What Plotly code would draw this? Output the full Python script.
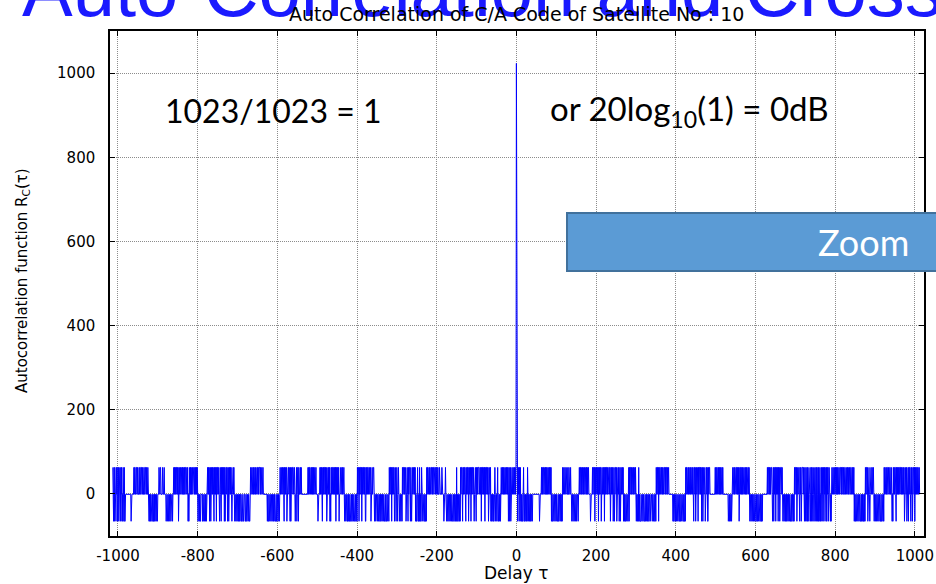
import plotly.graph_objects as go

# ---------------- data ----------------
# autocorrelation levels of the C/A code (per-lag symbols)
LEVELS = {"u": 63, "o": -1, "d": -65}
PEAK_VALUE = 1023

# lags -N..-1 (left of the peak), symbols in order of increasing lag
LEFT_SEGMENTS = [
    "uodud uoddu oudou duodd uoudo duodu ddo",
    "ooooo ooooo ooodo ooooo",
    "uouuo ouuou ooouo uuoou uouoo uuoou uouoo uod",
    "dodod odddo ddodo doddo dd",
    "ooouo ouuoo oouoo ouooo",
    "odood oodoo doodo oodoo",
    "uouou ouuou oudou ouuou uouou oouou uouuo udodo uouou ouuou uuouo uouou",
    "odood oddoo oodod oodoo dodoo",
    "uouou doudo uouou oduou ouduo uuouo douod uouou oudud ouuou doudo uouou odouu ouodo",
    "ddodd oddod odood doodd doood doodd oddod ddo",
    "uouuo uuouo uuouo uuuou ouuuo uouuo uu",
    "ooooo ooooo",
    "doddo ddodd oddod dodod ddodd oddod do",
    "uouuo uuouo duouo uudou uuouo dudou ouuuo uuodo oudou uduoo uuouo ooo",
    "ooooo ooooo oo",
    "uouou uouuo uouou ouuou uo",
    "ooodo ooo",
    "uouou dduou ouuou oudou uouou doduo uouuo uouou duouo uoudo ouuou uouou uo",
    "doddo dddod oddod ddodd oddod ddodd od",
    "uouud uouuo uduou uouou dduou ouuou uouud ouuou uu",
    "odood ooodo odood dodod doddo dddod ddodd odd",
    "uouuo uduou uoudo uudou odouo",
    "odood ood",
    "uouuo uouud ouuod uouuo duodo uouuo uou",
    "doddo uddod udodd uoddo dddod dod",
    "uouuo uuouo uuuou ouuou uuouo uuouo",
    "oouoo ooouo ooodo oouod",
    "doddo ddodd oddod ddodd oddod udodd oddod",
    "uouuo duouo uuodu ouuou douou uduou uouod ouuod uouou",
    "uuouu ouduo uuouo uduou uouou douuo ud",
    "odood oddou odood ouddo ododo",
    "uouuo uouou uouuo uoudo udoud ouuou uouuo uou",
]

# lags 1..M (right of the peak)
RIGHT_SEGMENTS = [
    "uoduo uduou do",
    "doddo uddod oddod uddod dodod odd",
    "ooooo ooooo ooooo oodoo oo",
    "uouou uouuo uouou ouuou uouou",
    "doddo ddodd oddod ddodd oddod dod",
    "uoouo ouoou ooouo ouooo uo",
    "odood oodoo doodo oodoo",
    "uouuo uouuo uouuo uuouo uouuo",
    "ooodo ooo",
    "uouuo uduou uouou duouo uudou ouuou duouo uuouo uu",
    "uoudo uouou doudo uuoud ouuou doudo uouuo udo",
    "doddo ddodd ouduo uuouo uuouo uuouo",
    "doddo dudod ddodd oddod ddodo ododo oddoo doood doodo oddod",
    "uouuo uduou uouuo uouou uuouo uuouo uu",
    "ooooo ooooo",
    "doddo ddodd oddod ddodd oddod ddodd od",
    "uouuo uuouo uuouo uuouo duuou douou uduou uouou doudo uouud ouuou dduou uo",
    "ooooo ooooo oo",
    "uouou uouuo uouou ouuou",
    "ooooo ooooo oo",
    "odood odood ouuou uouou uuouo uoudo uouuo uouou uouuo uouou uuouo",
    "doddo ddodd oddod ddodd oddod ddodd od",
    "ooooo ooooo oo",
    "uouuo uouou uuodo uduou uduou ouduo udouu uou",
    "ododd oddod ododd oddod ddodd oddod",
    "uouuo udouo uuodu oudou uuouo",
    "duodu odudu odouu doudu oduod uudou duodu dudou doduo udoud uouod uduou douod",
    "dodou ouuou uouuo uouou ouuou uuouo uuouo ouuou uouuo uouuo ouuou uouou",
    "doddo ddodd oddod ddodo doddo dod",
    "uouuo udouu odouu ouuou uo",
    "doddo ddodd oddod ddodd oddod",
    "uouoo uouuo ouoou uoouo",
    "doduo uouuo duouo uouou uuouo uouuo",
    "udouu oudou uduou uoduo udouu ouduo uouuo uouuo",
]

X_TICKS = [-1000, -800, -600, -400, -200, 0, 200, 400, 600, 800, 1000]
X_TICK_TEXT = ["-1000", "-800", "-600", "-400", "-200", "0", "200", "400", "600", "800", "1000"]
Y_TICKS = [0, 200, 400, 600, 800, 1000]
X_RANGE = [-1020, 1023]
Y_RANGE = [-100, 1100]

TITLE = "Auto Correlation of C/A Code of Satellite No : 10"
SLIDE_TITLE = "Auto-Correlation and Cross-Correlation"
X_LABEL = "Delay τ"
Y_LABEL = "Autocorrelation function R<sub>C</sub>(τ)"
NOTE_LEFT = "1023/1023 = 1"
NOTE_RIGHT = "or 20log<sub>10</sub>(1) = 0dB"
ZOOM_TEXT = "Zoom"

# ---------------- decode ----------------
left = "".join("".join(LEFT_SEGMENTS).split())
right = "".join("".join(RIGHT_SEGMENTS).split())
lags = list(range(-len(left), 0)) + [0] + list(range(1, len(right) + 1))
values = [LEVELS[c] for c in left] + [PEAK_VALUE] + [LEVELS[c] for c in right]

# ---------------- figure ----------------
W, H = 936, 584
L, R, T, B = 110, 924, 31, 536


def px(x):
    return (x - L) / (R - L)


def py(y):
    return (B - y) / (B - T)


fig = go.Figure()
fig.add_trace(go.Scatter(x=lags, y=values, mode="lines",
                         line=dict(color="#0000FF", width=1),
                         hoverinfo="skip", showlegend=False))

axis_common = dict(
    showgrid=True, gridcolor="#8c8c8c", gridwidth=1, griddash="1px,1px",
    ticks="inside", ticklen=5, tickcolor="black", tickwidth=1,
    showline=True, linecolor="black", linewidth=1.5, mirror="ticks",
    zeroline=False, automargin=False,
    tickfont=dict(family="DejaVu Sans", size=15, color="black"),
)

fig.update_layout(
    width=W, height=H,
    margin=dict(l=L, r=W - R, t=T, b=H - B),
    paper_bgcolor="white", plot_bgcolor="white",
    xaxis=dict(range=X_RANGE, tickvals=X_TICKS, ticktext=X_TICK_TEXT,
               ticklabelstandoff=5, **axis_common),
    yaxis=dict(range=Y_RANGE, tickvals=Y_TICKS, ticklabelstandoff=10, **axis_common),
    font=dict(family="Liberation Sans", color="black"),
)

fig.add_shape(type="rect", xref="paper", yref="paper",
              x0=px(567), x1=px(960), y0=py(271), y1=py(213),
              fillcolor="#5B9BD5", line=dict(color="#41719C", width=2), layer="above")

ann = [
    dict(text=SLIDE_TITLE, x=px(20), y=py(34), xanchor="left", yanchor="bottom",
         font=dict(family="Liberation Sans", size=76, color="#1a1aff")),
    dict(text=TITLE, x=px(516), y=py(14), xanchor="center", yanchor="middle",
         font=dict(family="DejaVu Sans", size=19, color="black")),
    dict(text=X_LABEL, x=px(516), y=py(573), xanchor="center", yanchor="middle",
         font=dict(family="DejaVu Sans", size=17, color="black")),
    dict(text=Y_LABEL, x=px(22), y=py(281), xanchor="center", yanchor="middle",
         textangle=-90, font=dict(family="DejaVu Sans", size=15, color="black")),
    dict(text=NOTE_LEFT, x=px(163), y=py(110), xanchor="left", yanchor="middle",
         font=dict(family="Lato", size=32, color="black")),
    dict(text=NOTE_RIGHT, x=px(548), y=py(110), xanchor="left", yanchor="middle",
         font=dict(family="Lato", size=33, color="black")),
    dict(text=ZOOM_TEXT, x=px(863), y=py(242), xanchor="center", yanchor="middle",
         font=dict(family="Lato", size=36, color="white")),
]
for a in ann:
    fig.add_annotation(xref="paper", yref="paper", showarrow=False, **a)

fig.write_html("out.html")
